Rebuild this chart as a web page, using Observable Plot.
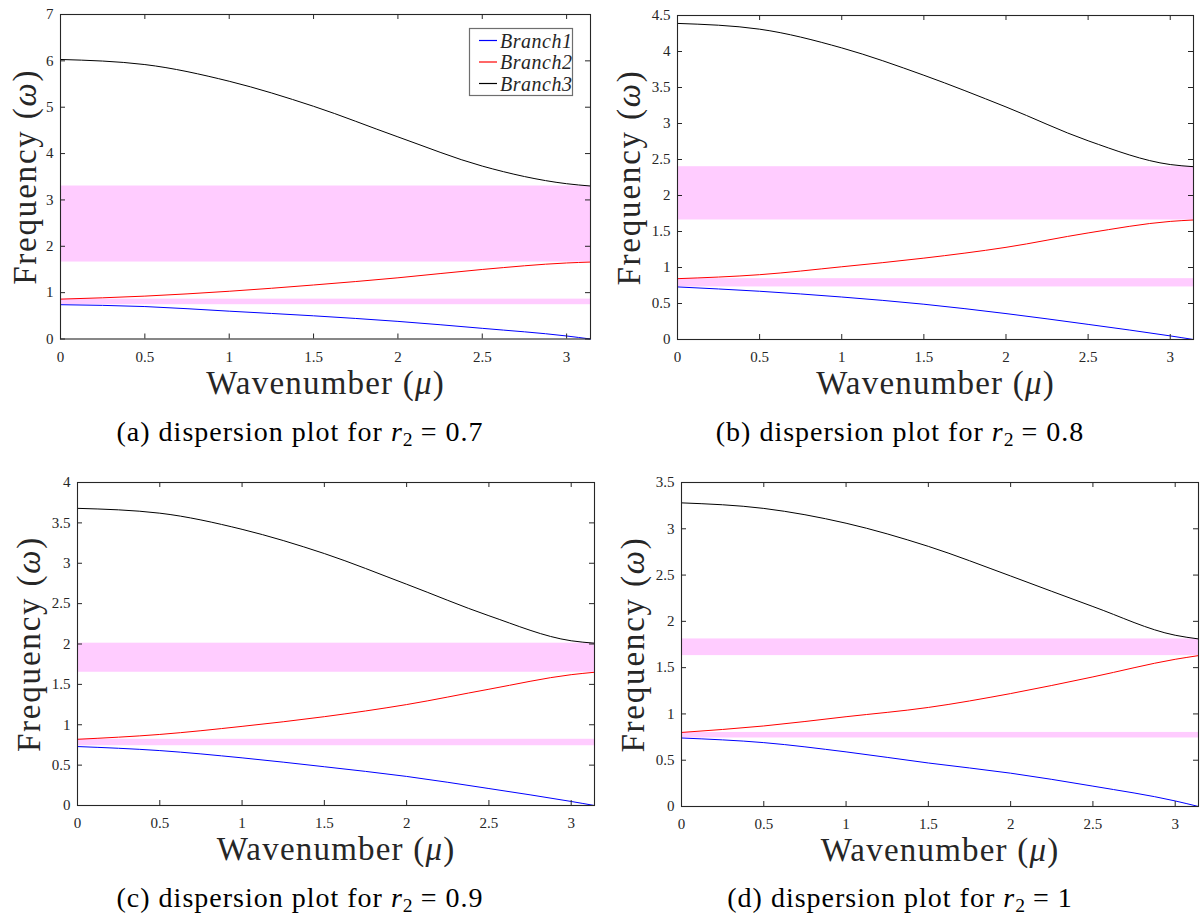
<!DOCTYPE html>
<html>
<head>
<meta charset="utf-8">
<script src="https://cdn.jsdelivr.net/npm/d3@7"></script>
<script src="https://cdn.jsdelivr.net/npm/@observablehq/plot@0.6"></script>
<style>
  html, body { margin: 0; padding: 0; background: #fff; }
  #root { position: relative; width: 1200px; height: 915px; overflow: hidden; font-family: "Liberation Serif", "DejaVu Serif", serif; }
  .panel { position: absolute; }
  .panel svg { display: block; overflow: visible; font-family: "Liberation Serif", "DejaVu Serif", serif !important; }
  .panel svg text { font-family: "Liberation Serif", "DejaVu Serif", serif; }
  .caption { position: absolute; width: 600px; text-align: center; font-size: 28px; line-height: 28px; color: #000; letter-spacing: 1px; }
  .caption sub { font-size: 0.7em; line-height: 0; vertical-align: -0.28em; letter-spacing: 0; }
  .legend { position: absolute; display: block; }
</style>
</head>
<body>
<div id="root"></div>
<script>
// ---------------- data ----------------
const mu = [0, 0.5, 1, 1.5, 2, 2.5, 3, Math.PI];
const xTicks = [0, 0.5, 1, 1.5, 2, 2.5, 3];
const branchNames = ["Branch1", "Branch2", "Branch3"];
const branchColors = ["#0000ff", "#ff0000", "#000000"];

// (a) r2 = 0.7
const a_b1 = [0.74, 0.70, 0.60, 0.50, 0.38, 0.23, 0.065, 0.00];
const a_b2 = [0.86, 0.925, 1.03, 1.165, 1.32, 1.50, 1.64, 1.66];
const a_b3 = [6.03, 5.92, 5.56, 5.02, 4.36, 3.73, 3.35, 3.30];
const a_gaps = [[0.74, 0.86], [1.66, 3.30]];
const a_yTicks = [0, 1, 2, 3, 4, 5, 6, 7];

// (b) r2 = 0.8
const b_b1 = [0.73, 0.67, 0.59, 0.49, 0.36, 0.21, 0.05, 0.00];
const b_b2 = [0.845, 0.90, 1.01, 1.13, 1.28, 1.48, 1.64, 1.66];
const b_b3 = [4.39, 4.31, 4.05, 3.67, 3.23, 2.76, 2.43, 2.40];
const b_gaps = [[0.73, 0.845], [1.66, 2.40]];
const b_yTicks = [0, 0.5, 1, 1.5, 2, 2.5, 3, 3.5, 4, 4.5];

// (c) r2 = 0.9
const c_b1 = [0.73, 0.68, 0.59, 0.48, 0.36, 0.21, 0.05, 0.00];
const c_b2 = [0.82, 0.88, 0.98, 1.10, 1.25, 1.44, 1.62, 1.65];
const c_b3 = [3.68, 3.62, 3.42, 3.12, 2.74, 2.35, 2.04, 2.01];
const c_gaps = [[0.74, 0.82], [1.65, 2.01]];
const c_yTicks = [0, 0.5, 1, 1.5, 2, 2.5, 3, 3.5, 4];

// (d) r2 = 1
const d_b1 = [0.74, 0.69, 0.59, 0.47, 0.36, 0.22, 0.06, 0.00];
const d_b2 = [0.80, 0.87, 0.97, 1.07, 1.22, 1.40, 1.59, 1.63];
const d_b3 = [3.28, 3.22, 3.06, 2.81, 2.49, 2.16, 1.85, 1.81];
const d_gaps = [[0.74, 0.80], [1.63, 1.81]];
const d_yTicks = [0, 0.5, 1, 1.5, 2, 2.5, 3, 3.5];

const captionLetters = ["a", "b", "c", "d"];
const r2Values = ["0.7", "0.8", "0.9", "1"];
const xTitle = "Wavenumber (μ)";
const yTitle = "Frequency (ω)";

// ---------------- layout (styles only) ----------------
const layout = [
  {left: 0,   top: 0,   ml: 60, mr: 10, mt: 14, mb: 61.5, ymax: 7,   yOff: 35, capY: 418},
  {left: 600, top: 0,   ml: 77, mr: 7,  mt: 15, mb: 61,   ymax: 4.5, yOff: 48, capY: 418},
  {left: 0,   top: 468, ml: 77, mr: 6,  mt: 14, mb: 63,   ymax: 4,   yOff: 48, capY: 884},
  {left: 600, top: 468, ml: 81, mr: 2,  mt: 14, mb: 62,   ymax: 3.5, yOff: 48, capY: 884}
];
const series = [
  {b: [a_b1, a_b2, a_b3], gaps: a_gaps, yTicks: a_yTicks},
  {b: [b_b1, b_b2, b_b3], gaps: b_gaps, yTicks: b_yTicks},
  {b: [c_b1, c_b2, c_b3], gaps: c_gaps, yTicks: c_yTicks},
  {b: [d_b1, d_b2, d_b3], gaps: d_gaps, yTicks: d_yTicks}
];

const W = 600, H = 400, TICK = 5;
const FONT = "Liberation Serif";
const INK = "#262626";
const ns = "http://www.w3.org/2000/svg";
const root = document.getElementById("root");

series.forEach((s, p) => {
  const L = layout[p];
  const fw = W - L.ml - L.mr, fh = H - L.mt - L.mb;
  const rows = [];
  s.b.forEach((vals, k) => vals.forEach((v, i) => rows.push({mu: mu[i], omega: v, branch: branchNames[k]})));
  const bands = s.gaps.map(([lo, hi]) => ({lo, hi}));
  const x0 = mu[0], x1 = mu[mu.length - 1];

  const chart = Plot.plot({
    width: W, height: H,
    marginLeft: L.ml, marginRight: L.mr, marginTop: L.mt, marginBottom: L.mb,
    style: {fontFamily: FONT, background: "transparent", overflow: "visible"},
    x: {domain: [x0, x1]},
    y: {domain: [0, L.ymax]},
    color: {domain: branchNames, range: branchColors},
    marks: [
      Plot.rect(bands, {x1: () => x0, x2: () => x1, y1: "lo", y2: "hi", fill: "#ffccff"}),
      Plot.line(rows, {x: "mu", y: "omega", z: "branch", stroke: "branch", strokeWidth: 1, curve: "monotone-x"}),
      Plot.frame({stroke: INK, strokeWidth: 1.1}),
      Plot.tickX(xTicks, {x: d => d, insetTop: fh - TICK, stroke: INK}),
      Plot.tickX(xTicks, {x: d => d, insetBottom: fh - TICK, stroke: INK}),
      Plot.tickY(s.yTicks, {y: d => d, insetRight: fw - TICK, stroke: INK}),
      Plot.tickY(s.yTicks, {y: d => d, insetLeft: fw - TICK, stroke: INK}),
      Plot.axisX(xTicks, {tickSize: 0, tickPadding: 12, fontSize: 15, fontFamily: FONT, label: null, color: INK, tickFormat: d => `${d}`}),
      Plot.axisY(s.yTicks, {tickSize: 0, tickPadding: 7, fontSize: 15, fontFamily: FONT, label: null, color: INK, tickFormat: d => `${d}`}),
      Plot.text([xTitle], {frameAnchor: "bottom", dy: 44, textAnchor: "middle", lineAnchor: "middle", fontSize: 33, fill: INK, fontFamily: FONT}),
      Plot.text([yTitle], {frameAnchor: "left", dx: -L.yOff, rotate: -90, textAnchor: "middle", lineAnchor: "middle", fontSize: 33, fill: INK, fontFamily: FONT})
    ]
  });

  // italicise the math symbols in the axis titles
  chart.querySelectorAll("text").forEach(t => {
    const txt = t.textContent;
    if (txt === xTitle || txt === yTitle) {
      const sym = txt === xTitle ? "μ" : "ω";
      const idx = txt.indexOf(sym);
      const target = t.querySelector("tspan") || t;
      target.textContent = "";
      const t1 = document.createElementNS(ns, "tspan"); t1.textContent = txt.slice(0, idx);
      const t2 = document.createElementNS(ns, "tspan"); t2.textContent = sym; t2.setAttribute("font-style", "italic");
      const t3 = document.createElementNS(ns, "tspan"); t3.textContent = txt.slice(idx + 1);
      target.append(t1, t2, t3);
      t.setAttribute("letter-spacing", txt === yTitle ? "1.8" : "1.2");
    }
  });

  const wrap = document.createElement("div");
  wrap.className = "panel";
  wrap.style.left = L.left + "px";
  wrap.style.top = L.top + "px";
  wrap.appendChild(chart);
  root.appendChild(wrap);

  const cap = document.createElement("div");
  cap.className = "caption";
  cap.style.left = L.left + "px";
  cap.style.top = L.capY + "px";
  cap.innerHTML = `(${captionLetters[p]}) dispersion plot for <i>r</i><sub>2</sub> = ${r2Values[p]}`;
  root.appendChild(cap);
});

// legend for panel (a), as a small inline SVG
const lg = document.createElementNS(ns, "svg");
lg.setAttribute("class", "legend");
lg.setAttribute("width", "106");
lg.setAttribute("height", "70");
lg.style.left = "468px";
lg.style.top = "27px";
const box = document.createElementNS(ns, "rect");
Object.entries({x: 1.5, y: 1.5, width: 103, height: 67, fill: "#fff", stroke: "#6e6e6e", "stroke-width": 1.2})
  .forEach(([k, v]) => box.setAttribute(k, v));
lg.appendChild(box);
branchNames.forEach((name, k) => {
  const cy = 13.5 + k * 21.5;
  const ln = document.createElementNS(ns, "line");
  Object.entries({x1: 11, x2: 29, y1: cy, y2: cy, stroke: branchColors[k], "stroke-width": 1.2})
    .forEach(([a, v]) => ln.setAttribute(a, v));
  const tx = document.createElementNS(ns, "text");
  Object.entries({x: 32, y: cy, "dominant-baseline": "central", "font-family": FONT, "font-style": "italic", "font-size": 20, fill: INK, "letter-spacing": 0.5})
    .forEach(([a, v]) => tx.setAttribute(a, v));
  tx.textContent = name;
  lg.append(ln, tx);
});
root.appendChild(lg);
</script>
</body>
</html>
